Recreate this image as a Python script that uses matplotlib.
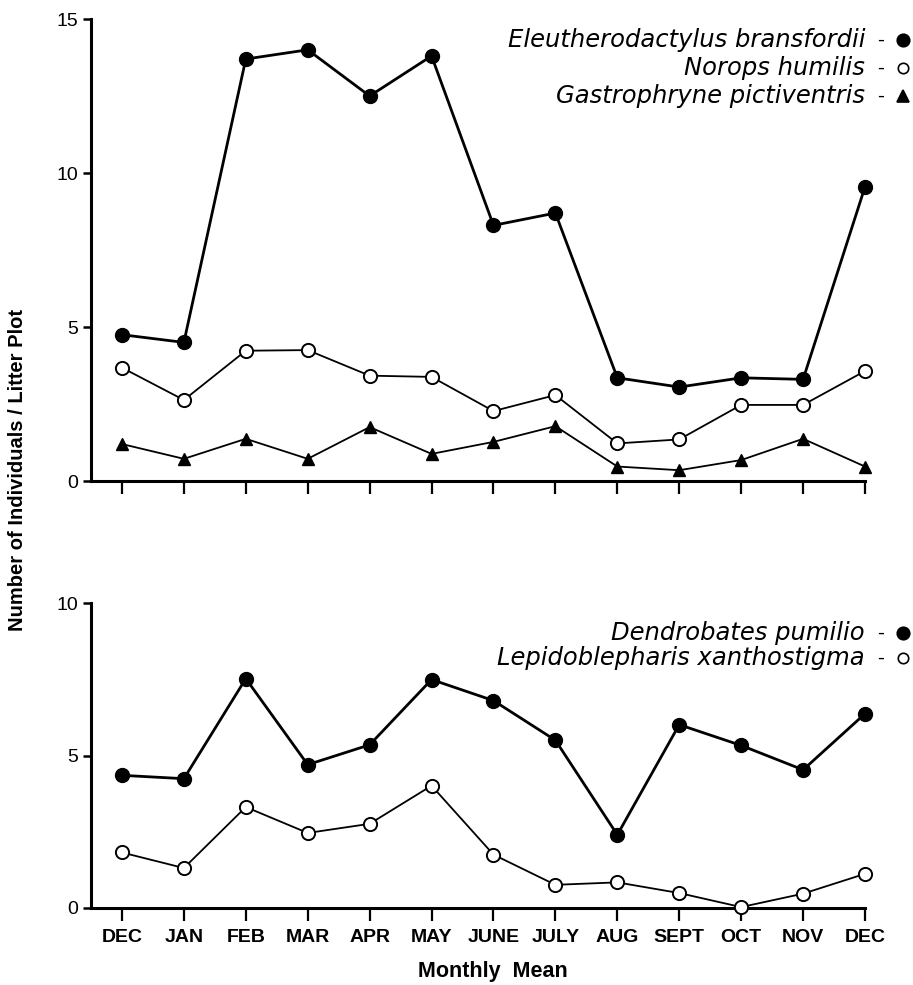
import matplotlib
matplotlib.use("Agg")
import matplotlib.pyplot as plt
from matplotlib.lines import Line2D

plt.rcParams['font.family'] = ['Liberation Sans', 'DejaVu Sans']

# Monthly means (number of individuals per litter plot)
months = ['DEC', 'JAN', 'FEB', 'MAR', 'APR', 'MAY', 'JUNE', 'JULY',
          'AUG', 'SEPT', 'OCT', 'NOV', 'DEC']
eleuth = [4.75, 4.5, 13.7, 14.0, 12.5, 13.8, 8.3, 8.7, 3.35, 3.05, 3.35, 3.3, 9.55]
norops = [3.68, 2.63, 4.23, 4.25, 3.42, 3.38, 2.27, 2.79, 1.22, 1.35, 2.47, 2.47, 3.57]
gastro = [1.2, 0.72, 1.37, 0.72, 1.75, 0.88, 1.27, 1.78, 0.47, 0.35, 0.68, 1.37, 0.47]
dendro = [4.35, 4.24, 7.52, 4.7, 5.35, 7.49, 6.8, 5.5, 2.4, 6.01, 5.33, 4.53, 6.37]
lepido = [1.82, 1.31, 3.31, 2.46, 2.76, 4.01, 1.75, 0.76, 0.84, 0.49, 0.03, 0.47, 1.12]

x = list(range(len(months)))
W, H = 913, 985

fig = plt.figure(figsize=(W / 100, H / 100), dpi=100)
ax_top = fig.add_axes([91 / W, 1 - 481 / H, 774 / W, 462 / H])
ax_bot = fig.add_axes([91 / W, 1 - 908 / H, 774 / W, 305 / H])


def style_axis(ax, ymax, step):
    ax.set_xlim(-0.5, 12)
    ax.set_ylim(0, ymax)
    for s in ['top', 'right']:
        ax.spines[s].set_visible(False)
    for s in ['left', 'bottom']:
        ax.spines[s].set_linewidth(2.2)
    ax.set_yticks(range(0, ymax + 1, step))
    ax.set_xticks(x)
    ax.tick_params(axis='y', direction='out', length=6, width=1.8,
                   labelsize=14, pad=3)
    ax.tick_params(axis='x', direction='out', length=9, width=1.6,
                   labelsize=14, pad=6)


style_axis(ax_top, 15, 5)
style_axis(ax_bot, 10, 5)
ax_top.set_xticklabels([])
ax_bot.set_xticklabels(months, fontweight='bold')

# top panel
ax_top.plot(x, eleuth, '-o', color='black', lw=2.0, ms=10, clip_on=False, zorder=5)
ax_top.plot(x, norops, '-o', color='black', mfc='white', mec='black', mew=1.4,
            lw=1.3, ms=9.5, clip_on=False, zorder=4)
ax_top.plot(x, gastro, '-^', color='black', lw=1.3, ms=9, clip_on=False, zorder=3)

# bottom panel
ax_bot.plot(x, dendro, '-o', color='black', lw=2.0, ms=10, clip_on=False, zorder=5)
ax_bot.plot(x, lepido, '-o', color='black', mfc='white', mec='black', mew=1.4,
            lw=1.3, ms=9.5, clip_on=False, zorder=4)

# legend-like labels at top right of each panel
legend_top = [('Eleutherodactylus bransfordii', 'o', 'black', 40),
              ('Norops humilis', 'o', 'white', 68),
              ('Gastrophryne pictiventris', '^', 'black', 96)]
legend_bot = [('Dendrobates pumilio', 'o', 'black', 633),
              ('Lepidoblepharis xanthostigma', 'o', 'white', 658)]

for name, mk, fc, ypx in legend_top + legend_bot:
    yf = 1 - ypx / H
    fig.text(865 / W, yf, name, ha='right', va='center', fontsize=17.5,
             style='italic', family='DejaVu Sans')
    fig.text(881 / W, yf, '-', ha='center', va='center', fontsize=15)
    ms = 9 if fc == 'black' else 7.5
    fig.add_artist(Line2D([903 / W], [yf], marker=mk, ms=ms, mfc=fc,
                          mec='black', mew=1.2, transform=fig.transFigure))

fig.text(18 / W, 1 - 470 / H, 'Number of Individuals / Litter Plot',
         rotation=90, ha='center', va='center', fontsize=14.5, fontweight='bold')
fig.text(493 / W, 1 - 971 / H, 'Monthly  Mean', ha='center', va='center',
         fontsize=15.5, fontweight='bold')

fig.savefig('out.png', dpi=100)
